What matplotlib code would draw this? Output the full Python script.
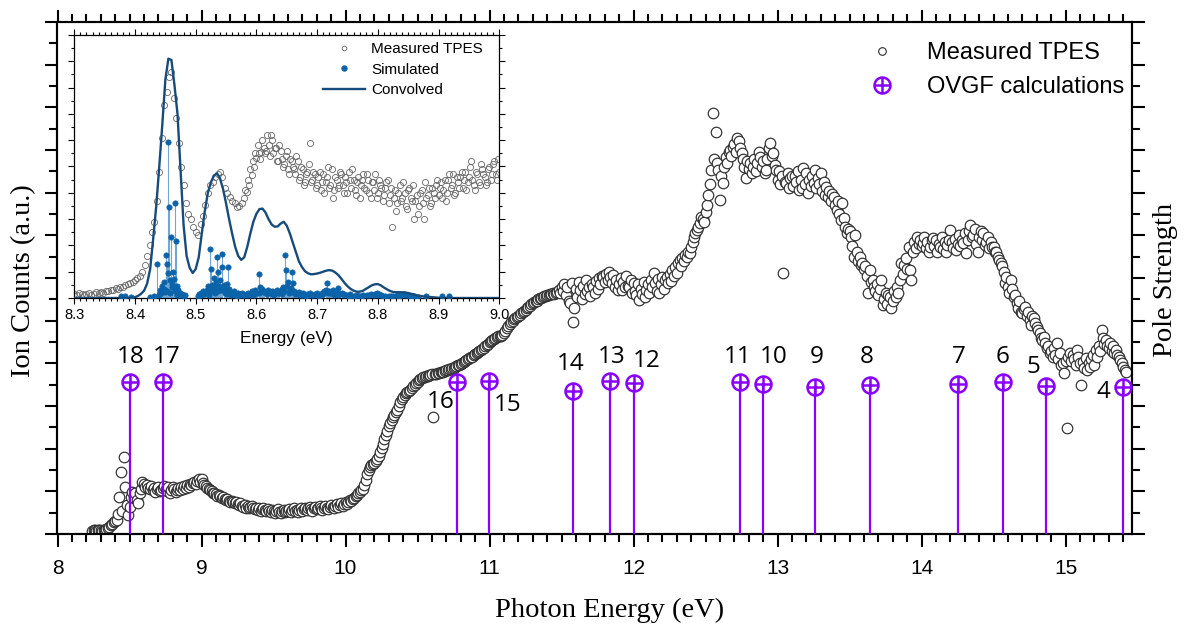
import numpy as np
import matplotlib
matplotlib.use("Agg")
import matplotlib.pyplot as plt
from matplotlib.path import Path
from matplotlib.lines import Line2D
from matplotlib.ticker import MultipleLocator, FormatStrFormatter

# ---------------- main TPES (ion counts, a.u.), 0.01 eV grid from 8.24 eV
tpes_start = 8.24
tpes_step = 0.01
tpes_counts = [
    0.08, 0.09, 0.09, 0.08, 0.09, 0.10,
    0.09, 0.08, 0.09, 0.10, 0.11, 0.13, 0.16, 0.20, 0.24, 0.27,
    0.30, 0.33, 0.46, 0.86, 1.45, 0.55, 1.81, 1.11, 0.68, 0.45,
    0.64, 0.87, 0.98, 0.85, 0.95, 0.80, 0.72, 0.95, 1.05, 1.23,
    1.18, 1.10, 1.15, 1.08, 1.05, 1.12, 1.02, 1.08, 0.98, 1.06,
    1.10, 1.00, 1.04, 1.08, 1.12, 1.05, 1.00, 1.09, 0.95, 1.03,
    1.10, 1.06, 0.98, 1.02, 1.08, 1.04, 1.10, 1.06, 1.12, 1.08,
    1.15, 1.10, 1.18, 1.14, 1.20, 1.22, 1.18, 1.25, 1.28, 1.22,
    1.30, 1.20, 1.15, 1.12, 1.08, 1.05, 1.02, 1.00, 0.97, 0.95,
    0.93, 0.90, 0.92, 0.88, 0.85, 0.86, 0.82, 0.80, 0.83, 0.78,
    0.76, 0.78, 0.74, 0.72, 0.75, 0.70, 0.68, 0.72, 0.66, 0.64,
    0.67, 0.62, 0.65, 0.60, 0.63, 0.66, 0.60, 0.58, 0.62, 0.57,
    0.60, 0.55, 0.58, 0.62, 0.56, 0.54, 0.59, 0.55, 0.52, 0.57,
    0.54, 0.50, 0.55, 0.58, 0.52, 0.49, 0.54, 0.57, 0.51, 0.55,
    0.53, 0.58, 0.52, 0.56, 0.60, 0.54, 0.57, 0.52, 0.56, 0.60,
    0.55, 0.58, 0.62, 0.56, 0.60, 0.64, 0.58, 0.55, 0.60, 0.63,
    0.58, 0.62, 0.65, 0.60, 0.57, 0.62, 0.66, 0.61, 0.58, 0.63,
    0.68, 0.64, 0.60, 0.66, 0.70, 0.64, 0.68, 0.72, 0.66, 0.70,
    0.74, 0.70, 0.76, 0.80, 0.78, 0.82, 0.85, 0.88, 0.92, 0.95,
    0.98, 1.02, 1.05, 1.15, 1.27, 1.40, 1.50, 1.58, 1.62, 1.64,
    1.66, 1.70, 1.76, 1.82, 1.92, 2.02, 2.12, 2.22, 2.32, 2.42,
    2.52, 2.60, 2.68, 2.75, 2.80, 2.85, 2.90, 3.00, 3.10, 3.16,
    3.22, 3.26, 3.30, 3.33, 3.36, 3.38, 3.42, 3.46, 3.50, 3.53,
    3.56, 3.60, 3.63, 3.65, 3.67, 3.68, 3.70, 3.71, 3.72, 3.73,
    3.74, 2.75, 3.75, 3.76, 3.77, 3.78, 3.79, 3.80, 3.80, 3.82,
    3.84, 3.85, 3.86, 3.87, 3.88, 3.90, 3.92, 3.93, 3.95, 3.97,
    3.99, 4.01, 4.03, 4.05, 4.08, 4.10, 4.12, 4.14, 4.16, 4.19,
    4.22, 4.25, 4.27, 4.30, 4.32, 4.34, 4.37, 4.40, 4.43, 4.46,
    4.49, 4.52, 4.55, 4.58, 4.60, 4.62, 4.63, 4.64, 4.65, 4.66,
    4.70, 4.76, 4.82, 4.88, 4.93, 4.97, 5.00, 5.03, 5.06, 5.09,
    5.12, 5.14, 5.17, 5.20, 5.23, 5.26, 5.29, 5.32, 5.35, 5.38,
    5.41, 5.43, 5.45, 5.47, 5.50, 5.52, 5.54, 5.56, 5.57, 5.58,
    5.60, 5.61, 5.62, 5.63, 5.64, 5.63, 5.65, 5.68, 5.72, 5.64,
    5.78, 5.70, 5.85, 5.60, 5.80, 5.45, 5.41, 5.88, 4.98, 5.30,
    5.75, 5.55, 5.90, 5.72, 5.50, 5.82, 5.62, 5.95, 5.70, 5.78,
    5.58, 5.85, 5.80, 5.65, 5.92, 5.75, 6.00, 5.85, 6.05, 6.03,
    5.90, 6.10, 5.95, 6.15, 6.02, 5.88, 6.08, 5.80, 5.95, 5.72,
    5.85, 6.00, 5.72, 5.90, 5.78, 6.05, 5.82, 5.80, 5.95, 5.65,
    5.88, 5.70, 5.60, 5.85, 5.48, 5.75, 5.62, 5.90, 5.55, 5.72,
    5.85, 5.65, 5.95, 5.78, 6.11, 5.88, 5.70, 5.98, 5.64, 5.85,
    6.02, 5.75, 5.95, 6.03, 5.88, 6.10, 5.92, 6.19, 6.05, 6.25,
    6.12, 6.35, 6.42, 6.28, 6.48, 6.40, 6.55, 6.50, 6.62, 6.58,
    6.73, 6.85, 6.97, 7.05, 7.12, 7.20, 7.30, 7.44, 7.38, 7.32,
    7.55, 7.71, 7.94, 8.20, 8.53, 9.86, 8.80, 9.43, 8.70, 8.53,
    7.83, 8.40, 8.22, 8.60, 8.84, 8.70, 8.95, 9.00, 8.85, 9.08,
    9.15, 8.95, 9.27, 9.20, 9.05, 8.92, 8.80, 8.60, 8.34, 8.75,
    8.55, 8.70, 8.45, 8.61, 8.80, 8.50, 8.70, 8.95, 8.84, 8.60,
    8.75, 8.45, 8.53, 8.80, 9.05, 9.16, 8.85, 8.92, 8.65, 8.53,
    8.30, 8.50, 8.20, 8.40, 6.11, 8.25, 8.22, 8.45, 8.10, 8.35,
    8.38, 8.15, 8.40, 8.25, 8.50, 8.06, 8.30, 8.10, 8.57, 8.20,
    8.45, 8.00, 8.30, 8.15, 8.40, 8.22, 8.52, 8.10, 8.35, 8.20,
    8.45, 8.05, 8.25, 7.95, 8.14, 7.90, 8.05, 7.80, 7.98, 7.91,
    7.70, 7.60, 7.80, 7.50, 7.36, 7.75, 7.40, 7.20, 7.05, 7.15,
    7.10, 6.95, 6.75, 6.50, 7.00, 6.60, 6.40, 6.50, 6.30, 6.34,
    6.20, 6.28, 6.05, 5.64, 6.19, 5.90, 5.95, 5.80, 5.70, 5.85,
    5.60, 5.75, 5.95, 5.37, 5.50, 5.65, 5.40, 5.60, 5.56, 5.29,
    5.45, 5.70, 5.55, 5.80, 5.65, 5.95, 6.34, 6.10, 6.30, 6.46,
    6.20, 6.73, 6.19, 5.95, 6.60, 6.85, 6.70, 6.97, 6.80, 6.90,
    6.75, 6.81, 6.95, 6.70, 6.85, 6.62, 6.73, 6.90, 6.93, 6.75,
    6.88, 6.62, 6.80, 6.73, 6.95, 6.68, 6.85, 6.62, 6.78, 6.90,
    7.12, 6.85, 6.70, 6.92, 6.66, 6.80, 7.00, 6.75, 6.88, 6.81,
    7.05, 6.58, 6.90, 7.10, 7.24, 6.95, 7.01, 7.15, 6.80, 6.62,
    6.95, 7.10, 6.88, 7.05, 6.78, 6.85, 6.95, 6.70, 6.85, 6.73,
    6.73, 6.60, 6.62, 6.50, 6.42, 6.35, 6.27, 6.15, 5.88, 6.02,
    5.80, 5.64, 5.95, 5.75, 5.55, 5.60, 5.41, 5.30, 5.45, 5.20,
    5.17, 5.28, 5.33, 5.10, 5.20, 5.02, 4.90, 5.10, 5.06, 4.95,
    4.85, 4.78, 4.70, 4.60, 4.55, 4.62, 4.47, 4.35, 4.40, 4.24,
    4.30, 4.15, 4.35, 4.20, 4.47, 4.10, 4.25, 3.95, 4.00, 3.77,
    4.05, 2.48, 4.15, 4.24, 4.05, 4.20, 4.10, 3.95, 4.31, 4.15,
    4.00, 3.49, 4.04, 3.90, 4.12, 3.85, 4.00, 3.92, 4.10, 4.20,
    3.95, 4.31, 4.15, 4.40, 4.30, 4.78, 4.60, 4.45, 4.55, 4.40,
    4.35, 4.47, 4.30, 4.40, 4.25, 4.31, 4.20, 4.15, 4.08, 4.00,
    3.92, 3.85, 3.80,
]

# ---------------- OVGF ionisation energies (eV) and pole strengths
ovgf_labels = ["18", "17", "16", "15", "14", "13", "12", "11", "10",
               "9", "8", "7", "6", "5", "4"]
ovgf_energy = [8.50, 8.73, 10.775, 10.995, 11.578, 11.84, 12.006, 12.738,
               12.90, 13.262, 13.642, 14.255, 14.564, 14.865, 15.401]
ovgf_pole = [0.889, 0.889, 0.892, 0.896, 0.838, 0.898, 0.887, 0.889,
             0.879, 0.863, 0.873, 0.877, 0.889, 0.869, 0.863]
# label offsets from each marker, in pixels (dx, dy)
ovgf_label_offset = [(1, 25), (4, 25), (-16, -20), (19, -24), (-2, 27),
                     (1, 24), (12, 22), (-2, 25), (11, 27), (1, 30),
                     (-3, 28), (1, 27), (0, 25), (-13, 19), (-20, -5)]

# ---------------- inset: measured TPES near the first band
# first sweep on a 0.004 eV grid from 8.300 eV
inset_start = 8.300
inset_step = 0.004
inset_counts = [
    0.015, 0.012, 0.018, 0.014, 0.010, 0.016, 0.020, 0.013, 0.017, 0.022,
    0.018, 0.024, 0.020, 0.028, 0.025, 0.032, 0.030, 0.038, 0.035, 0.043,
    0.040, 0.048, 0.052, 0.056, 0.062, 0.070, 0.075, 0.085, 0.100, 0.125,
    0.160, 0.200, 0.250, 0.290, 0.370, 0.480, 0.607, 0.734, 0.784, 0.840,
    0.860, 0.760, 0.683, 0.590, 0.500, 0.430, 0.360, 0.320, 0.300, 0.270,
    0.250, 0.240, 0.280, 0.310, 0.354, 0.400, 0.430, 0.440, 0.460, 0.470,
    0.480, 0.460, 0.420, 0.400, 0.385, 0.370, 0.360, 0.345, 0.350, 0.360,
    0.380, 0.404, 0.430, 0.468, 0.500, 0.531, 0.550, 0.556, 0.570, 0.560,
    0.580, 0.620, 0.550, 0.570, 0.520, 0.560, 0.500, 0.540, 0.490, 0.530,
    0.500, 0.470, 0.520, 0.460, 0.490, 0.440, 0.480, 0.590, 0.450, 0.470,
    0.430, 0.480, 0.440, 0.400, 0.460, 0.420, 0.490, 0.410, 0.450, 0.430,
    0.470, 0.400, 0.440, 0.480, 0.420, 0.450, 0.390, 0.460, 0.430, 0.470,
    0.410, 0.450, 0.380, 0.440, 0.470, 0.400, 0.430, 0.370, 0.420, 0.450,
    0.390, 0.270, 0.410, 0.360, 0.430, 0.380, 0.400, 0.340, 0.420, 0.370,
    0.300, 0.390, 0.350, 0.410, 0.300, 0.380, 0.420, 0.360, 0.400, 0.430,
    0.390, 0.440, 0.410, 0.370, 0.450, 0.420, 0.470, 0.400, 0.440, 0.460,
    0.420, 0.480, 0.440, 0.500, 0.450, 0.410, 0.470, 0.430, 0.490, 0.460,
    0.440, 0.500, 0.470, 0.520, 0.450, 0.480,
]
# second sweep, offset by 0.002 eV, over the upper continuum from 8.582 eV
inset2_start = 8.582
inset2_counts = [
    0.41, 0.45, 0.49, 0.52, 0.55, 0.58, 0.53, 0.60, 0.55, 0.62,
    0.54, 0.60, 0.57, 0.52, 0.58, 0.53, 0.51, 0.56, 0.47, 0.52,
    0.49, 0.54, 0.45, 0.50, 0.43, 0.47, 0.51, 0.44, 0.48, 0.42,
    0.46, 0.41, 0.47, 0.44, 0.50, 0.43, 0.38, 0.46, 0.42, 0.48,
    0.43, 0.46, 0.40, 0.45, 0.49, 0.41, 0.44, 0.38, 0.45, 0.42,
    0.47, 0.40, 0.44, 0.41, 0.38, 0.45, 0.42, 0.39, 0.44, 0.36,
    0.42, 0.38, 0.33, 0.40, 0.37, 0.44, 0.35, 0.41, 0.38, 0.43,
    0.37, 0.32, 0.40, 0.36, 0.44, 0.39, 0.35, 0.42, 0.38, 0.45,
    0.42, 0.38, 0.45, 0.40, 0.47, 0.43, 0.39, 0.46, 0.42, 0.48,
    0.45, 0.41, 0.46, 0.52, 0.43, 0.48, 0.44, 0.51, 0.47, 0.43,
    0.49, 0.45, 0.51, 0.47, 0.53,
]

# ---------------- inset: simulated vibronic stick spectrum
sim_energy = [
    8.437, 8.451, 8.453, 8.454, 8.455, 8.456, 8.459, 8.463, 8.466, 8.467,
    8.524, 8.525, 8.530, 8.535, 8.536, 8.543, 8.544, 8.553, 8.552, 8.604,
    8.647, 8.648, 8.652, 8.659, 8.660, 8.644, 8.717, 8.735,
    8.445, 8.448, 8.450, 8.458, 8.461, 8.462, 8.464, 8.469, 8.471, 8.474,
    8.478, 8.442, 8.440, 8.446, 8.457, 8.470, 8.480, 8.483,
    8.505, 8.508, 8.512, 8.515, 8.518, 8.520, 8.522, 8.527, 8.529, 8.532,
    8.534, 8.538, 8.540, 8.541, 8.546, 8.548, 8.550, 8.555, 8.557, 8.560,
    8.563, 8.566, 8.570, 8.573, 8.576, 8.580, 8.583, 8.586, 8.589, 8.592,
    8.595, 8.598, 8.601, 8.606, 8.608, 8.610, 8.613, 8.616, 8.619, 8.622,
    8.625, 8.628, 8.631, 8.634, 8.637, 8.640, 8.642, 8.650, 8.655, 8.657,
    8.662, 8.665, 8.668, 8.671, 8.674, 8.677, 8.680, 8.684, 8.688, 8.692,
    8.696, 8.700, 8.704, 8.708, 8.712, 8.715, 8.720, 8.723, 8.726, 8.729,
    8.732, 8.738, 8.741, 8.745, 8.750, 8.755, 8.760, 8.765, 8.770, 8.776,
    8.782, 8.788, 8.793, 8.798, 8.802, 8.806, 8.812, 8.818, 8.825, 8.832,
    8.838, 8.843, 8.848, 8.853, 8.860, 8.866, 8.880, 8.905, 8.918,
    8.377, 8.383, 8.393, 8.425, 8.432,
]
sim_intensity = [
    0.128, 0.163, 0.130, 0.094, 0.594, 0.347, 0.233, 0.100, 0.362, 0.216,
    0.186, 0.112, 0.075, 0.155, 0.097, 0.166, 0.119, 0.119, 0.055, 0.090,
    0.162, 0.107, 0.062, 0.098, 0.058, 0.043, 0.056, 0.037,
    0.045, 0.060, 0.030, 0.070, 0.055, 0.040, 0.072, 0.045, 0.030, 0.020,
    0.015, 0.020, 0.012, 0.025, 0.018, 0.010, 0.008, 0.012,
    0.015, 0.010, 0.025, 0.020, 0.030, 0.045, 0.030, 0.050, 0.035, 0.040,
    0.060, 0.045, 0.070, 0.035, 0.050, 0.040, 0.028, 0.035, 0.022, 0.018,
    0.025, 0.015, 0.020, 0.012, 0.018, 0.010, 0.015, 0.020, 0.012, 0.025,
    0.018, 0.030, 0.020, 0.040, 0.025, 0.035, 0.028, 0.020, 0.030, 0.018,
    0.025, 0.015, 0.022, 0.030, 0.020, 0.028, 0.035, 0.045, 0.030, 0.038,
    0.025, 0.020, 0.015, 0.022, 0.012, 0.018, 0.010, 0.015, 0.020, 0.010,
    0.014, 0.018, 0.012, 0.020, 0.025, 0.030, 0.028, 0.020, 0.032, 0.018,
    0.022, 0.015, 0.020, 0.012, 0.010, 0.015, 0.008, 0.010, 0.006, 0.012,
    0.010, 0.015, 0.012, 0.020, 0.016, 0.010, 0.008, 0.006, 0.008, 0.010,
    0.012, 0.015, 0.010, 0.008, 0.006, 0.005, 0.006, 0.008, 0.006,
    0.008, 0.006, 0.005, 0.004, 0.006,
]
# weak combination bands
sim_weak_energy = [
    8.4405, 8.4435, 8.4475, 8.4495, 8.4525, 8.4605, 8.4655, 8.4685, 8.4725, 8.4765,
    8.5035, 8.5095, 8.5135, 8.5165, 8.5215, 8.5255, 8.5315, 8.5365, 8.5425, 8.5475,
    8.5515, 8.5585, 8.5645, 8.5685, 8.5745, 8.5785, 8.5845, 8.5905, 8.5965, 8.6035,
    8.6115, 8.6175, 8.6235, 8.6295, 8.6355, 8.6415, 8.6455, 8.6535, 8.6585, 8.6635,
    8.6695, 8.6755, 8.6815, 8.6865, 8.6945, 8.7025, 8.7105, 8.7185, 8.7215, 8.7275,
    8.7345, 8.7435, 8.7525, 8.7625, 8.7735, 8.7855, 8.7955, 8.8005, 8.8085, 8.8215,
    8.8355, 8.8455, 8.8565,
]
sim_weak_intensity = [
    0.030, 0.018, 0.035, 0.022, 0.028, 0.040, 0.025, 0.030, 0.012, 0.010,
    0.008, 0.018, 0.015, 0.022, 0.012, 0.028, 0.020, 0.025, 0.030, 0.018,
    0.015, 0.010, 0.012, 0.008, 0.015, 0.010, 0.012, 0.015, 0.010, 0.018,
    0.022, 0.015, 0.020, 0.012, 0.018, 0.015, 0.025, 0.020, 0.022, 0.015,
    0.010, 0.012, 0.008, 0.010, 0.012, 0.008, 0.015, 0.020, 0.018, 0.012,
    0.010, 0.015, 0.008, 0.006, 0.008, 0.010, 0.015, 0.012, 0.008, 0.006,
    0.008, 0.010, 0.006,
]

# ---------------- inset: convolved simulation, 0.005 eV grid from 8.300 eV
conv_start = 8.300
conv_step = 0.005
conv_values = [
    0.0, 0.0, 0.0, 0.0, 0.0, 0.0, 0.0, 0.0, 0.0, 0.0,
    0.0, 0.0, 0.0, 0.0, 0.0, 0.0, 0.0, 0.0, 0.0, 0.0,
    0.003, 0.008, 0.016, 0.028, 0.055, 0.110, 0.227, 0.350, 0.500, 0.660,
    0.830, 0.910, 0.905, 0.810, 0.700, 0.490, 0.278, 0.160, 0.115, 0.095,
    0.110, 0.155, 0.245, 0.330, 0.400, 0.440, 0.465, 0.474, 0.455, 0.415,
    0.360, 0.300, 0.245, 0.195, 0.160, 0.145, 0.155, 0.195, 0.245, 0.290,
    0.320, 0.338, 0.340, 0.325, 0.300, 0.280, 0.271, 0.272, 0.283, 0.290,
    0.275, 0.246, 0.210, 0.175, 0.140, 0.118, 0.102, 0.094, 0.090, 0.091,
    0.093, 0.096, 0.100, 0.104, 0.106, 0.104, 0.097, 0.087, 0.073, 0.058,
    0.045, 0.035, 0.028, 0.024, 0.024, 0.027, 0.034, 0.041, 0.048, 0.052,
    0.053, 0.048, 0.040, 0.033, 0.027, 0.023, 0.022, 0.022, 0.022, 0.021,
    0.019, 0.016, 0.013, 0.010, 0.008, 0.006, 0.005, 0.004, 0.003, 0.002,
    0.001,
    0.0, 0.0, 0.0, 0.0, 0.0, 0.0, 0.0, 0.0, 0.0, 0.0,
    0.0, 0.0, 0.0, 0.0, 0.0, 0.0, 0.0, 0.0, 0.0, 0.0,
]

# ---------------- styling
W, H = 1184, 628
PURPLE = "#8a00ff"
SIM_BLUE = "#0b63aa"
STEM_BLUE = "#6fa6d6"
CONV_BLUE = "#174c7a"
GREY = "#656565"
SANS = ["Liberation Sans", "DejaVu Sans"]
SERIF = ["Liberation Serif", "DejaVu Serif"]

plt.rcParams["font.family"] = SANS


def fig_box(left, top, right, bottom):
    """Figure-fraction rectangle from pixel edges."""
    return [left / W, 1 - bottom / H, (right - left) / W, (bottom - top) / H]


# circle-with-cross marker
oplus = Path.make_compound_path(
    Path.unit_circle(),
    Path([[-1, 0], [1, 0]], [Path.MOVETO, Path.LINETO]),
    Path([[0, -1], [0, 1]], [Path.MOVETO, Path.LINETO]),
)

fig = plt.figure(figsize=(W / 100, H / 100), dpi=100)
fig.patch.set_facecolor("white")

ax = fig.add_axes(fig_box(57.5, 22, 1132, 534))
ax2 = ax.twinx()

tpes_energy = np.round(tpes_start + tpes_step * np.arange(len(tpes_counts)), 3)
ax.plot(tpes_energy, tpes_counts, ls="none", marker="o", ms=7.6,
        mfc="white", mec="#2e2e2e", mew=0.85, zorder=2)

ax.set_xlim(8.0, 8.0 + (1132 - 57.5) / 144.0)
ax.set_ylim(0, 12)
ax2.set_ylim(0, 3.0)

# OVGF stems and markers
ax2.vlines(ovgf_energy, 0, ovgf_pole, color=PURPLE, lw=1.6, zorder=3)
ax2.plot(ovgf_energy, ovgf_pole, ls="none", marker=oplus, ms=11.5,
         mfc="none", mec=PURPLE, mew=1.8, zorder=4)
for lab, xe, ps, (dx, dy) in zip(ovgf_labels, ovgf_energy, ovgf_pole,
                                 ovgf_label_offset):
    ax2.annotate(lab, (xe, ps), xytext=(dx, dy), textcoords="offset pixels",
                 ha="center", va="center", fontsize=17.5,
                 family=["Open Sans", "DejaVu Sans"], color="black")

# ticks and spines
for a in (ax, ax2):
    for s in a.spines.values():
        s.set_linewidth(1.5)
ax.xaxis.set_major_locator(MultipleLocator(1))
ax.xaxis.set_minor_locator(MultipleLocator(0.1))
ax.yaxis.set_major_locator(MultipleLocator(1))
ax.yaxis.set_minor_locator(MultipleLocator(0.5))
ax2.yaxis.set_major_locator(MultipleLocator(0.25))
ax2.yaxis.set_minor_locator(MultipleLocator(0.125))
ax.tick_params(which="both", direction="out", top=True, bottom=True,
               left=True, right=False, labelleft=False, width=1.5)
ax.tick_params(which="major", length=9, labelsize=15, pad=8.7)
ax.tick_params(which="minor", length=5.5)
ax2.tick_params(which="both", direction="out", right=True, left=False,
                labelright=False, width=1.5)
ax2.tick_params(which="major", length=9)
ax2.tick_params(which="minor", length=5.5)

# axis titles
fig.text(610 / W, 1 - 610 / H, "Photon Energy (eV)", ha="center", va="center",
         fontsize=20.5, family=SERIF)
fig.text(24 / W, 1 - 281 / H, "Ion Counts (a.u.)", ha="center", va="center",
         rotation=90, fontsize=20.5, family=SERIF)
fig.text(1165 / W, 1 - 280 / H, "Pole Strength", ha="center", va="center",
         rotation=90, fontsize=20.5, family=SERIF)

# main legend
leg_handles = [
    Line2D([], [], ls="none", marker="o", ms=5.5, mfc="white",
           mec="#2e2e2e", mew=0.8),
    Line2D([], [], ls="none", marker=oplus, ms=11.5, mfc="none",
           mec=PURPLE, mew=1.8),
]
ax2.legend(leg_handles, ["Measured TPES", "OVGF calculations"],
           loc="upper left", bbox_to_anchor=(864 / W, 1 - 42 / H),
           bbox_transform=fig.transFigure, frameon=False, fontsize=17,
           handlelength=1.5, handletextpad=1.15, labelspacing=0.5,
           borderpad=0, borderaxespad=0)

# ---------------- inset
axi = fig.add_axes(fig_box(74.3, 35, 499.2, 298))
axi.set_zorder(10)
axi.set_facecolor("white")

inset_energy = np.round(inset_start + inset_step * np.arange(len(inset_counts)), 3)
inset2_energy = np.round(inset2_start + inset_step * np.arange(len(inset2_counts)), 3)
conv_energy = np.round(conv_start + conv_step * np.arange(len(conv_values)), 3)
stick_e = list(sim_energy) + list(sim_weak_energy)
stick_i = list(sim_intensity) + list(sim_weak_intensity)

axi.vlines(stick_e, 0, stick_i, color=STEM_BLUE, lw=0.8, zorder=2)
axi.plot(stick_e, stick_i, ls="none", marker="o", ms=3.9,
         mfc=SIM_BLUE, mec=SIM_BLUE, mew=0.4, zorder=3)
for xe, ye in ((inset_energy, inset_counts), (inset2_energy, inset2_counts)):
    axi.plot(xe, ye, ls="none", marker="o", ms=4.4, mfc="none",
             mec=GREY, mew=0.6, zorder=2)
axi.plot(conv_energy, conv_values, color=CONV_BLUE, lw=1.7, zorder=4)

axi.set_xlim(8.3, 9.0)
axi.set_ylim(0, 1.0)
axi.xaxis.set_major_locator(MultipleLocator(0.1))
axi.xaxis.set_minor_locator(MultipleLocator(0.01))
axi.xaxis.set_major_formatter(FormatStrFormatter("%.1f"))
axi.yaxis.set_major_locator(MultipleLocator(0.1))
axi.yaxis.set_minor_locator(MultipleLocator(0.05))
for s in axi.spines.values():
    s.set_linewidth(0.9)
axi.tick_params(which="both", direction="out", top=True, bottom=True,
                left=True, right=True, labelleft=False, width=0.8)
axi.tick_params(which="major", length=4.5, labelsize=10.5, pad=2.5)
axi.tick_params(which="minor", length=2.5)
axi.set_xlabel("Energy (eV)", fontsize=12.5, labelpad=7)

inset_handles = [
    Line2D([], [], ls="none", marker="o", ms=3.4, mfc="none",
           mec=GREY, mew=0.6),
    Line2D([], [], ls="none", marker="o", ms=3.6, mfc=SIM_BLUE,
           mec=SIM_BLUE),
    Line2D([], [], color=CONV_BLUE, lw=1.7),
]
axi.legend(inset_handles, ["Measured TPES", "Simulated", "Convolved"],
           loc="upper left", bbox_to_anchor=(323 / W, 1 - 42 / H),
           bbox_transform=fig.transFigure, frameon=False, fontsize=11,
           handlelength=2.75, handletextpad=0.4, labelspacing=0.43,
           borderpad=0, borderaxespad=0)

fig.savefig("out.png", dpi=100, facecolor="white")
